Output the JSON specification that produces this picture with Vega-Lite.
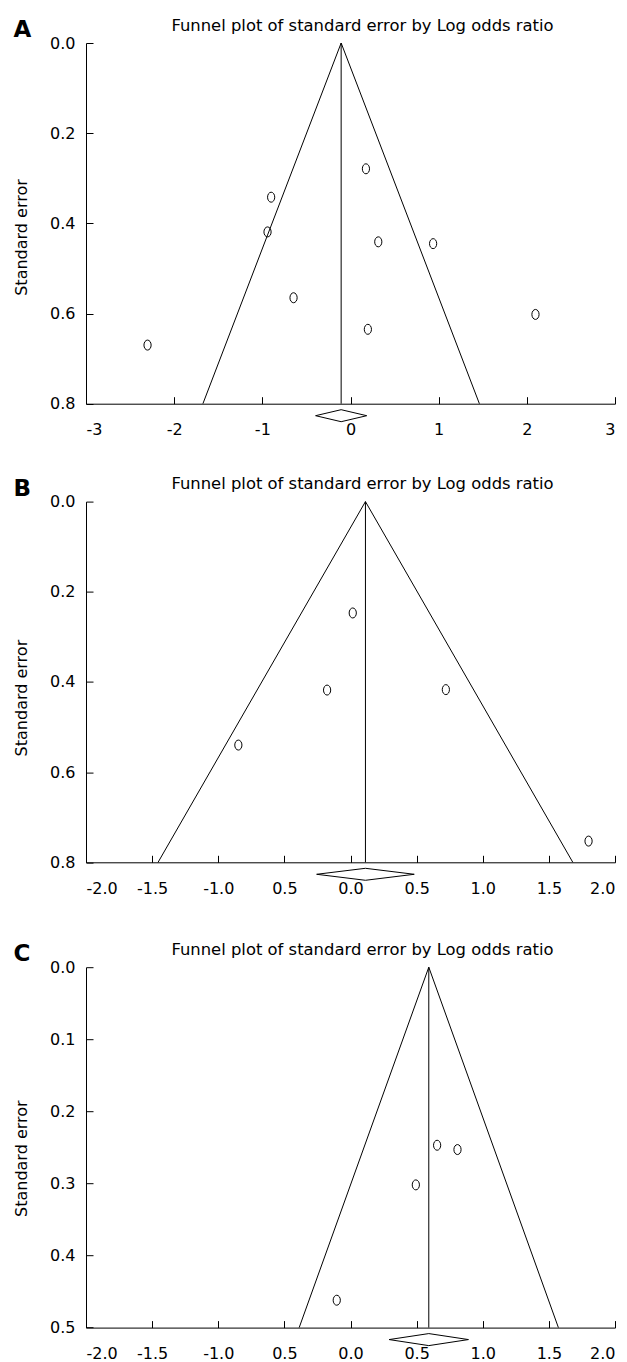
{
  "$schema": "https://vega.github.io/schema/vega-lite/v6.json",
  "background": "white",
  "padding": {"left": 13, "top": 17, "right": 5, "bottom": 5},
  "config": {
    "view": {"stroke": null},
    "font": "DejaVu Sans",
    "axis": {
      "domainColor": "black", "domainWidth": 1, "tickColor": "black", "tickWidth": 1,
      "tickSize": -7, "grid": false, "labelColor": "black", "titleColor": "black",
      "labelFont": "DejaVu Sans", "labelFontSize": 16, "titleFont": "DejaVu Sans",
      "titleFontSize": 16, "titleFontWeight": "normal"
    },
    "axisBottom": {"labelPadding": 25},
    "axisLeft": {"labelPadding": 18},
    "title": {"font": "DejaVu Sans", "fontSize": 23, "fontWeight": "bold", "color": "black", "anchor": "start", "frame": "bounds", "offset": -25}
  },
  "vconcat": [
    {
      "width": 529, "height": 360.7,
      "title": {"text": "A"},
      "encoding": {
        "y": {"field": "y", "type": "quantitative", "scale": {"domain": [0, 0.8], "reverse": true, "nice": false, "zero": false},
          "axis": {"values": [0, 0.2, 0.4, 0.6, 0.8], "format": ".1f", "title": "Standard error", "titleY": 194, "titlePadding": 20}}
      },
      "layer": [
        {"data": {"values": [{"x": -1.674, "y": 0.8, "o": 0}, {"x": -0.106, "y": 0, "o": 1}, {"x": 1.462, "y": 0.8, "o": 2}]},
         "mark": {"type": "line", "color": "black", "strokeWidth": 1},
         "encoding": {"x": {"field": "x", "type": "quantitative", "scale": {"domain": [-3, 3], "nice": false, "zero": false},
           "axis": {"orient": "top", "title": "Funnel plot of standard error by Log odds ratio", "labels": false, "ticks": false, "domain": false, "titleX": 276, "titlePadding": 10, "titleFontSize": 16.4}},
           "order": {"field": "o"}}},
        {"data": {"values": [{"x": -0.106, "y": 0, "y2": 0.8}]},
         "mark": {"type": "rule", "color": "black", "strokeWidth": 1},
         "encoding": {"x": {"field": "x", "type": "quantitative", "axis": null}, "y2": {"field": "y2"}}},
        {"data": {"values": [{"x": -0.396, "y": 0.8266, "o": 0}, {"x": -0.106, "y": 0.8133, "o": 1}, {"x": 0.184, "y": 0.8266, "o": 2}, {"x": -0.106, "y": 0.8399, "o": 3}, {"x": -0.396, "y": 0.8266, "o": 4}]},
         "mark": {"type": "line", "color": "black", "strokeWidth": 1},
         "encoding": {"x": {"field": "x", "type": "quantitative", "axis": null}, "order": {"field": "o"}}},
        {"data": {"values": [{"x": 0.175, "y": 0.279}, {"x": -0.9, "y": 0.342}, {"x": -0.941, "y": 0.419}, {"x": 0.315, "y": 0.441}, {"x": 0.937, "y": 0.445}, {"x": -0.646, "y": 0.565}, {"x": 2.098, "y": 0.602}, {"x": 0.197, "y": 0.635}, {"x": -2.302, "y": 0.67}]},
         "mark": {"type": "point", "shape": "M0,-1 A0.72,1 0 1,1 0,1 A0.72,1 0 1,1 0,-1 Z", "size": 100, "filled": false, "stroke": "black", "strokeWidth": 1, "opacity": 1},
         "encoding": {"x": {"field": "x", "type": "quantitative", "axis": {"orient": "bottom", "values": [-3, -2, -1, 0, 1, 2, 3], "labelExpr": "replace(format(datum.value, 'd'), '−', '-')", "title": null}}}}
      ],
      "resolve": {"axis": {"x": "independent"}}
    },
    {
      "vconcat": [
        {
          "width": 529, "height": 360.7,
          "title": {"text": "B"},
          "encoding": {
            "y": {"field": "y", "type": "quantitative", "scale": {"domain": [0, 0.8], "reverse": true, "nice": false, "zero": false},
              "axis": {"values": [0, 0.2, 0.4, 0.6, 0.8], "format": ".1f", "title": "Standard error", "titleY": 196, "titlePadding": 20}}
          },
          "layer": [
            {"data": {"values": [{"x": -1.455, "y": 0.8, "o": 0}, {"x": 0.113, "y": 0, "o": 1}, {"x": 1.681, "y": 0.8, "o": 2}]},
             "mark": {"type": "line", "color": "black", "strokeWidth": 1},
             "encoding": {"x": {"field": "x", "type": "quantitative", "scale": {"domain": [-2, 2], "nice": false, "zero": false},
               "axis": {"orient": "top", "title": "Funnel plot of standard error by Log odds ratio", "labels": false, "ticks": false, "domain": false, "titleX": 276, "titlePadding": 10, "titleFontSize": 16.4}},
               "order": {"field": "o"}}},
            {"data": {"values": [{"x": 0.113, "y": 0, "y2": 0.8}]},
             "mark": {"type": "rule", "color": "black", "strokeWidth": 1},
             "encoding": {"x": {"field": "x", "type": "quantitative", "axis": null}, "y2": {"field": "y2"}}},
            {"data": {"values": [{"x": -0.256, "y": 0.8266, "o": 0}, {"x": 0.113, "y": 0.8133, "o": 1}, {"x": 0.482, "y": 0.8266, "o": 2}, {"x": 0.113, "y": 0.8399, "o": 3}, {"x": -0.256, "y": 0.8266, "o": 4}]},
             "mark": {"type": "line", "color": "black", "strokeWidth": 1},
             "encoding": {"x": {"field": "x", "type": "quantitative", "axis": null}, "order": {"field": "o"}}},
            {"data": {"values": [{"x": 0.017, "y": 0.247}, {"x": -0.177, "y": 0.418}, {"x": 0.721, "y": 0.417}, {"x": -0.848, "y": 0.54}, {"x": 1.8, "y": 0.753}]},
             "mark": {"type": "point", "shape": "M0,-1 A0.72,1 0 1,1 0,1 A0.72,1 0 1,1 0,-1 Z", "size": 100, "filled": false, "stroke": "black", "strokeWidth": 1, "opacity": 1},
             "encoding": {"x": {"field": "x", "type": "quantitative", "axis": {"orient": "bottom", "values": [-2, -1.5, -1, -0.5, 0, 0.5, 1, 1.5, 2], "labelExpr": "datum.value == -0.5 ? '0.5' : replace(format(datum.value, '.1f'), '−', '-')", "title": null}}}}
          ],
          "resolve": {"axis": {"x": "independent"}}
        },
        {
          "width": 529, "height": 360.4,
          "title": {"text": "C"},
          "encoding": {
            "y": {"field": "y", "type": "quantitative", "scale": {"domain": [0, 0.5], "reverse": true, "nice": false, "zero": false},
              "axis": {"values": [0, 0.1, 0.2, 0.3, 0.4, 0.5], "format": ".1f", "title": "Standard error", "titleY": 191, "titlePadding": 20}}
          },
          "layer": [
            {"data": {"values": [{"x": -0.388, "y": 0.5, "o": 0}, {"x": 0.592, "y": 0, "o": 1}, {"x": 1.572, "y": 0.5, "o": 2}]},
             "mark": {"type": "line", "color": "black", "strokeWidth": 1},
             "encoding": {"x": {"field": "x", "type": "quantitative", "scale": {"domain": [-2, 2], "nice": false, "zero": false},
               "axis": {"orient": "top", "title": "Funnel plot of standard error by Log odds ratio", "labels": false, "ticks": false, "domain": false, "titleX": 276, "titlePadding": 10, "titleFontSize": 16.4}},
               "order": {"field": "o"}}},
            {"data": {"values": [{"x": 0.592, "y": 0, "y2": 0.5}]},
             "mark": {"type": "rule", "color": "black", "strokeWidth": 1},
             "encoding": {"x": {"field": "x", "type": "quantitative", "axis": null}, "y2": {"field": "y2"}}},
            {"data": {"values": [{"x": 0.292, "y": 0.5166, "o": 0}, {"x": 0.592, "y": 0.5083, "o": 1}, {"x": 0.892, "y": 0.5166, "o": 2}, {"x": 0.592, "y": 0.525, "o": 3}, {"x": 0.292, "y": 0.5166, "o": 4}]},
             "mark": {"type": "line", "color": "black", "strokeWidth": 1},
             "encoding": {"x": {"field": "x", "type": "quantitative", "axis": null}, "order": {"field": "o"}}},
            {"data": {"values": [{"x": 0.655, "y": 0.247}, {"x": 0.809, "y": 0.253}, {"x": 0.494, "y": 0.302}, {"x": -0.104, "y": 0.462}]},
             "mark": {"type": "point", "shape": "M0,-1 A0.72,1 0 1,1 0,1 A0.72,1 0 1,1 0,-1 Z", "size": 100, "filled": false, "stroke": "black", "strokeWidth": 1, "opacity": 1},
             "encoding": {"x": {"field": "x", "type": "quantitative", "axis": {"orient": "bottom", "values": [-2, -1.5, -1, -0.5, 0, 0.5, 1, 1.5, 2], "labelExpr": "datum.value == -0.5 ? '0.5' : replace(format(datum.value, '.1f'), '−', '-')", "title": null}}}}
          ],
          "resolve": {"axis": {"x": "independent"}}
        }
      ],
      "spacing": 44.6
    }
  ],
  "spacing": 37.6
}
